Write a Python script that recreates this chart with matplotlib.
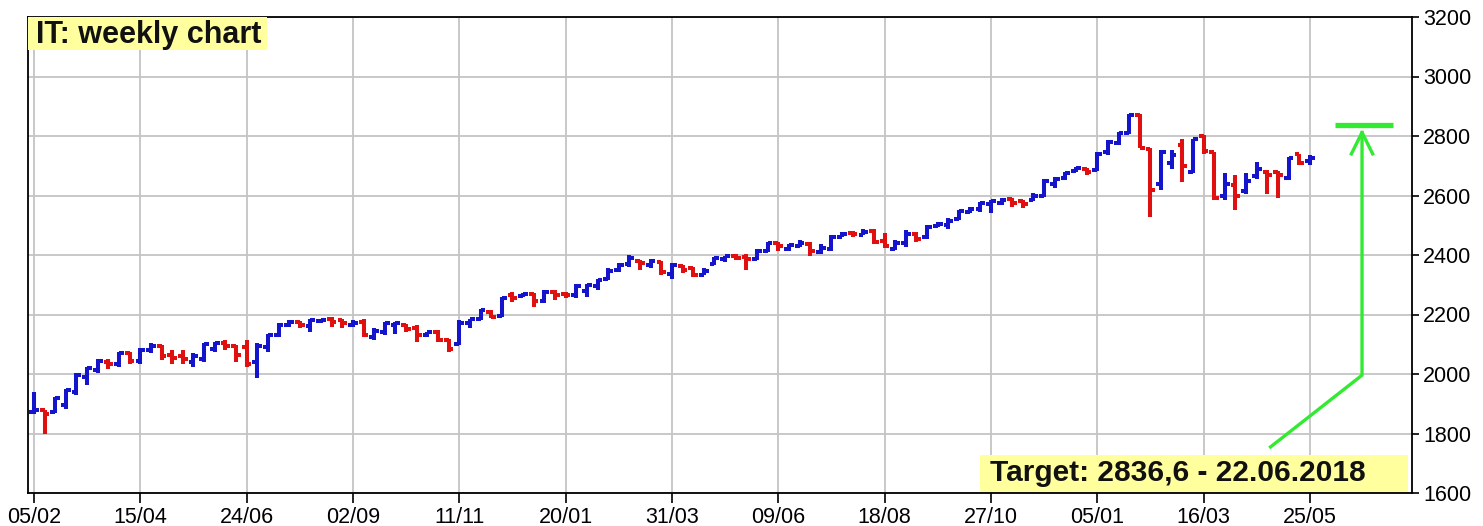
import numpy as np
import matplotlib
matplotlib.use('Agg')
import matplotlib.pyplot as plt
from matplotlib.patches import Rectangle

plt.rcParams['font.family'] = ['Liberation Sans', 'DejaVu Sans']

# weekly bars, 05/02/2016 .. 25/05/2018
opens = [1872, 1878, 1873, 1895, 1940, 1990, 2015, 2040, 2035, 2070,
         2045, 2080, 2095, 2065, 2060, 2040, 2050, 2085, 2105, 2095,
         2090, 2040, 2090, 2130, 2165, 2175, 2160, 2178, 2185, 2180,
         2165, 2175, 2125, 2140, 2165, 2165, 2155, 2130, 2140, 2115,
         2100, 2170, 2185, 2210, 2195, 2265, 2262, 2268, 2245, 2275,
         2270, 2265, 2280, 2295, 2318, 2348, 2370, 2380, 2365, 2378,
         2335, 2362, 2355, 2333, 2370, 2385, 2398, 2393, 2385, 2415,
         2440, 2420, 2430, 2438, 2410, 2420, 2462, 2475, 2468, 2480,
         2448, 2420, 2440, 2472, 2460, 2498, 2500, 2520, 2545, 2555,
         2572, 2575, 2588, 2580, 2585, 2600, 2640, 2658, 2682, 2690,
         2685, 2745, 2775, 2810, 2870, 2755, 2640, 2710, 2770, 2680,
         2800, 2745, 2600, 2635, 2615, 2665, 2680, 2680, 2660, 2740,
         2715]
highs = [1940, 1880, 1923, 1951, 2002, 2024, 2052, 2052, 2075, 2075,
         2086, 2103, 2097, 2080, 2080, 2069, 2103, 2108, 2114, 2097,
         2114, 2105, 2136, 2170, 2181, 2178, 2186, 2186, 2192, 2186,
         2181, 2186, 2153, 2175, 2175, 2168, 2164, 2142, 2147, 2119,
         2181, 2186, 2220, 2215, 2259, 2276, 2271, 2271, 2282, 2282,
         2276, 2304, 2304, 2321, 2355, 2372, 2400, 2383, 2388, 2380,
         2372, 2366, 2360, 2355, 2394, 2398, 2404, 2404, 2421, 2443,
         2443, 2438, 2449, 2443, 2438, 2466, 2477, 2482, 2488, 2488,
         2473, 2450, 2484, 2478, 2501, 2512, 2523, 2551, 2562, 2579,
         2585, 2590, 2590, 2585, 2607, 2657, 2663, 2679, 2696, 2693,
         2746, 2786, 2814, 2875, 2875, 2758, 2752, 2752, 2791, 2791,
         2802, 2746, 2674, 2668, 2674, 2713, 2685, 2682, 2730, 2741,
         2735]
lows = [1866, 1800, 1870, 1884, 1929, 1963, 2002, 2018, 2024, 2035,
        2035, 2069, 2047, 2035, 2035, 2024, 2041, 2074, 2080, 2041,
        2024, 1985, 2074, 2125, 2158, 2153, 2142, 2170, 2158, 2153,
        2158, 2125, 2114, 2131, 2136, 2142, 2108, 2125, 2108, 2075,
        2097, 2153, 2181, 2187, 2190, 2243, 2259, 2226, 2237, 2248,
        2254, 2254, 2260, 2282, 2316, 2344, 2360, 2349, 2355, 2332,
        2321, 2338, 2327, 2332, 2366, 2376, 2382, 2348, 2382, 2410,
        2415, 2415, 2426, 2398, 2404, 2415, 2460, 2460, 2466, 2438,
        2422, 2417, 2428, 2445, 2455, 2495, 2489, 2518, 2540, 2545,
        2540, 2568, 2562, 2557, 2582, 2596, 2624, 2651, 2679, 2668,
        2682, 2735, 2769, 2808, 2758, 2528, 2618, 2690, 2646, 2674,
        2741, 2584, 2584, 2550, 2606, 2657, 2606, 2590, 2651, 2702,
        2702]
closes = [1878, 1866, 1918, 1946, 1995, 2020, 2045, 2035, 2070, 2045,
          2082, 2095, 2060, 2055, 2050, 2060, 2100, 2105, 2095, 2065,
          2035, 2095, 2130, 2165, 2175, 2165, 2180, 2182, 2175, 2170,
          2172, 2130, 2145, 2170, 2170, 2150, 2130, 2140, 2115, 2085,
          2170, 2185, 2215, 2190, 2255, 2255, 2268, 2245, 2275, 2265,
          2266, 2295, 2300, 2315, 2345, 2368, 2390, 2372, 2380, 2342,
          2365, 2350, 2332, 2345, 2390, 2395, 2390, 2385, 2415, 2440,
          2430, 2432, 2440, 2415, 2425, 2460, 2470, 2470, 2478, 2445,
          2430, 2440, 2470, 2455, 2495, 2505, 2515, 2548, 2555, 2575,
          2580, 2585, 2575, 2570, 2600, 2650, 2655, 2675, 2692, 2680,
          2740, 2780, 2810, 2870, 2760, 2620, 2745, 2735, 2700, 2790,
          2750, 2592, 2640, 2600, 2650, 2690, 2670, 2670, 2725, 2710,
          2725]

date_labels = ['05/02', '15/04', '24/06', '02/09', '11/11', '20/01', '31/03',
               '09/06', '18/08', '27/10', '05/01', '16/03', '25/05']
target = 2836.6

o = np.array(opens); h = np.array(highs); l = np.array(lows); c = np.array(closes)
x = np.arange(len(o))
cols = np.where(c >= o, '#1414cc', '#e01010')

fig = plt.figure(figsize=(14.83, 5.26), dpi=100)
ax = fig.add_axes([28/1483, 33/526, 1384/1483, 476/526])

ax.set_xlim(-0.56, 129.6)
ax.set_ylim(1600, 3200)
ax.set_xticks(np.arange(0, 121, 10))
ax.set_xticklabels(date_labels)
ax.set_yticks(np.arange(1600, 3201, 200))
ax.yaxis.tick_right()
ax.grid(True, color='#c4c4c4', lw=1.3)
ax.set_axisbelow(True)
ax.tick_params(axis='x', length=7, width=1.2, labelsize=15.5, pad=3)
ax.tick_params(axis='y', length=5, width=1.2, labelsize=15.5, pad=3)
for s in ax.spines.values():
    s.set_linewidth(1.3)

ax.vlines(x, l, h, colors=cols, lw=2.9, capstyle='butt')
ax.hlines(o, x - 0.45, x, colors=cols, lw=2.9)
ax.hlines(c, x, x + 0.45, colors=cols, lw=2.9)

# target line and arrow
g = '#33ea33'
ax.plot([122.4, 127.8], [target, target], color=g, lw=3.8, solid_capstyle='butt')
ax.plot([116.3, 124.9, 124.9], [1755, 1996, 2812], color=g, lw=2.4)
ax.plot([123.9, 124.9, 125.9], [2740, 2812, 2740], color=g, lw=2.4)

# labels
ax.add_patch(Rectangle((0, 0.93), 0.1727, 0.07, transform=ax.transAxes,
                       facecolor='#ffff9e', edgecolor='none', zorder=5))
ax.text(0.0058, 0.963, 'IT: weekly chart', transform=ax.transAxes, fontsize=22,
        fontweight='bold', va='center', ha='left', color='#111111', zorder=6)
ax.add_patch(Rectangle((0.688, 0.003), 0.309, 0.077, transform=ax.transAxes,
                       facecolor='#ffff9e', edgecolor='none', zorder=5))
ax.text(0.695, 0.042, 'Target: 2836,6 - 22.06.2018', transform=ax.transAxes,
        fontsize=21.5, fontweight='bold', va='center', ha='left', color='#111111', zorder=6)

plt.savefig('out.png', dpi=100)
